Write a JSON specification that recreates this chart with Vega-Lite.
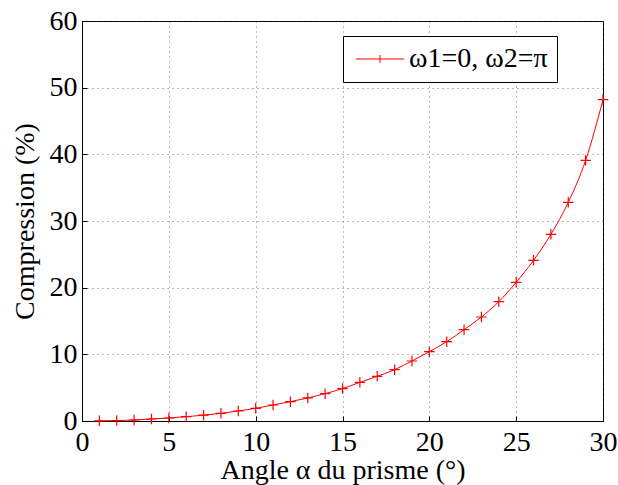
{
  "$schema": "https://vega.github.io/schema/vega-lite/v6.json",
  "width": 521,
  "height": 400,
  "autosize": {"type": "none"},
  "padding": {"left": 82, "top": 21, "right": 15, "bottom": 64},
  "background": "white",
  "config": {
    "view": {"stroke": "black", "strokeWidth": 1},
    "axis": {
      "labelFont": "Liberation Serif",
      "labelFontSize": 28,
      "labelColor": "black",
      "titleFont": "Liberation Serif",
      "titleFontSize": 28,
      "titleFontWeight": "normal",
      "titleColor": "black",
      "domainColor": "black",
      "tickColor": "black",
      "tickSize": -5,
      "gridColor": "#333",
      "gridDash": [1, 4],
      "gridOpacity": 0.7,
      "labelFlush": false
    },
    "legend": {
      "labelFont": "Liberation Serif",
      "labelFontSize": 28,
      "labelColor": "black"
    }
  },
  "data": {
    "values": [
      {"x": 1, "y": 0.02, "s": "ω1=0, ω2=π"},
      {"x": 2, "y": 0.07, "s": "ω1=0, ω2=π"},
      {"x": 3, "y": 0.15, "s": "ω1=0, ω2=π"},
      {"x": 4, "y": 0.3, "s": "ω1=0, ω2=π"},
      {"x": 5, "y": 0.45, "s": "ω1=0, ω2=π"},
      {"x": 6, "y": 0.65, "s": "ω1=0, ω2=π"},
      {"x": 7, "y": 0.87, "s": "ω1=0, ω2=π"},
      {"x": 8, "y": 1.15, "s": "ω1=0, ω2=π"},
      {"x": 9, "y": 1.5, "s": "ω1=0, ω2=π"},
      {"x": 10, "y": 1.9, "s": "ω1=0, ω2=π"},
      {"x": 11, "y": 2.4, "s": "ω1=0, ω2=π"},
      {"x": 12, "y": 2.9, "s": "ω1=0, ω2=π"},
      {"x": 13, "y": 3.46, "s": "ω1=0, ω2=π"},
      {"x": 14, "y": 4.1, "s": "ω1=0, ω2=π"},
      {"x": 15, "y": 4.86, "s": "ω1=0, ω2=π"},
      {"x": 16, "y": 5.8, "s": "ω1=0, ω2=π"},
      {"x": 17, "y": 6.7, "s": "ω1=0, ω2=π"},
      {"x": 18, "y": 7.7, "s": "ω1=0, ω2=π"},
      {"x": 19, "y": 9.0, "s": "ω1=0, ω2=π"},
      {"x": 20, "y": 10.4, "s": "ω1=0, ω2=π"},
      {"x": 21, "y": 11.9, "s": "ω1=0, ω2=π"},
      {"x": 22, "y": 13.7, "s": "ω1=0, ω2=π"},
      {"x": 23, "y": 15.6, "s": "ω1=0, ω2=π"},
      {"x": 24, "y": 17.9, "s": "ω1=0, ω2=π"},
      {"x": 25, "y": 20.8, "s": "ω1=0, ω2=π"},
      {"x": 26, "y": 24.1, "s": "ω1=0, ω2=π"},
      {"x": 27, "y": 28.0, "s": "ω1=0, ω2=π"},
      {"x": 28, "y": 32.8, "s": "ω1=0, ω2=π"},
      {"x": 29, "y": 39.1, "s": "ω1=0, ω2=π"},
      {"x": 30, "y": 48.2, "s": "ω1=0, ω2=π"}
    ]
  },
  "layer": [
    {
      "mark": {"type": "line", "strokeWidth": 1, "interpolate": "monotone"},
      "encoding": {
        "x": {
          "field": "x", "type": "quantitative",
          "scale": {"domain": [0, 30], "nice": false},
          "axis": {"values": [0, 5, 10, 15, 20, 25, 30], "title": "Angle α du prisme (°)", "labelPadding": 12, "titlePadding": 0, "grid": true}
        },
        "y": {
          "field": "y", "type": "quantitative",
          "scale": {"domain": [0, 60], "nice": false},
          "axis": {"values": [0, 10, 20, 30, 40, 50, 60], "title": "Compression (%)", "labelPadding": 10, "titlePadding": 10, "grid": true}
        },
        "color": {
          "field": "s", "type": "nominal", "title": null,
          "scale": {"range": ["#ff0000"]},
          "legend": {
            "orient": "none",
            "legendX": 261,
            "legendY": 15,
            "strokeColor": "black",
            "fillColor": "white",
            "padding": 9,
            "symbolType": "M-1,0H3.8M1.4,-0.4V0.4",
            "symbolSize": 400,
            "symbolStrokeWidth": 1,
            "symbolStrokeColor": "#ff0000",
            "symbolFillColor": "transparent",
            "labelOffset": 29
          }
        }
      }
    },
    {
      "mark": {"type": "point", "shape": "M-1,0H1M0,-1V1", "filled": false, "size": 110, "strokeWidth": 1.2, "color": "#ff0000", "opacity": 1},
      "encoding": {
        "x": {"field": "x", "type": "quantitative"},
        "y": {"field": "y", "type": "quantitative"}
      }
    }
  ]
}
